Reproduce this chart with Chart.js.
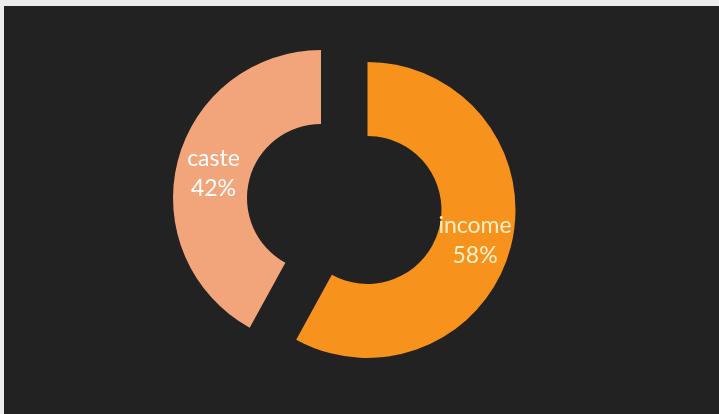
<!DOCTYPE html>
<html>
<head>
<meta charset="utf-8">
<script src="https://cdn.jsdelivr.net/npm/chart.js@4/dist/chart.umd.min.js"></script>
<style>
  html, body { margin: 0; padding: 0; background: #ececec; width: 719px; height: 414px; overflow: hidden; }
  #panel { position: absolute; left: 4px; top: 6px; width: 715px; height: 408px; background: #232222; }
  canvas { display: block; }
</style>
</head>
<body>
<div id="panel"><canvas id="c" width="715" height="408"></canvas></div>
<script>
// Share of each factor
const categories = ['income', 'caste'];
const shares = [58, 42];
const sliceColors = ['#f7921d', '#f2a57a'];
const labelColors = ['#fff2c8', '#ffffff'];
// How far each segment is pulled out of the ring, in pixels
const pullOut = [48, 0];

function segmentShift(arc, i) {
  const p = arc.getProps(['startAngle', 'endAngle'], true);
  const half = (p.startAngle + p.endAngle) / 2;
  return { dx: Math.cos(half) * pullOut[i], dy: Math.sin(half) * pullOut[i], half };
}

// Draws each segment moved straight out along its middle angle
const pulledSegments = {
  id: 'pulledSegments',
  beforeDatasetDraw(chart, args) {
    const ctx = chart.ctx;
    args.meta.data.forEach((arc, i) => {
      const s = segmentShift(arc, i);
      ctx.save();
      ctx.translate(s.dx, s.dy);
      arc.draw(ctx, chart.chartArea);
      ctx.restore();
    });
    return false;
  }
};

// Writes "name / NN%" in the middle of each ring segment
const sliceLabels = {
  id: 'sliceLabels',
  afterDatasetsDraw(chart) {
    const ctx = chart.ctx;
    const meta = chart.getDatasetMeta(0);
    const total = shares.reduce((a, b) => a + b, 0);
    meta.data.forEach((arc, i) => {
      const p = arc.getProps(['x', 'y', 'innerRadius', 'outerRadius'], true);
      const s = segmentShift(arc, i);
      const r = (p.innerRadius + p.outerRadius) / 2;
      const cx = p.x + s.dx + Math.cos(s.half) * r;
      const cy = p.y + s.dy + Math.sin(s.half) * r + 3;
      ctx.save();
      ctx.font = '23px Lato, "Open Sans", sans-serif';
      ctx.fillStyle = labelColors[i];
      ctx.textAlign = 'center';
      ctx.textBaseline = 'middle';
      ctx.fillText(categories[i], cx, cy - 15);
      ctx.fillText(Math.round(shares[i] / total * 100) + '%', cx, cy + 15);
      ctx.restore();
    });
  }
};

new Chart(document.getElementById('c'), {
  type: 'doughnut',
  data: {
    labels: categories,
    datasets: [{
      data: shares,
      backgroundColor: sliceColors,
      borderWidth: 0
    }]
  },
  options: {
    responsive: false,
    animation: false,
    radius: 148,
    cutout: '50%',
    layout: { padding: { left: 0, right: 81, top: 0, bottom: 24 } },
    plugins: {
      legend: { display: false },
      tooltip: { enabled: false }
    }
  },
  plugins: [pulledSegments, sliceLabels]
});
</script>
</body>
</html>
